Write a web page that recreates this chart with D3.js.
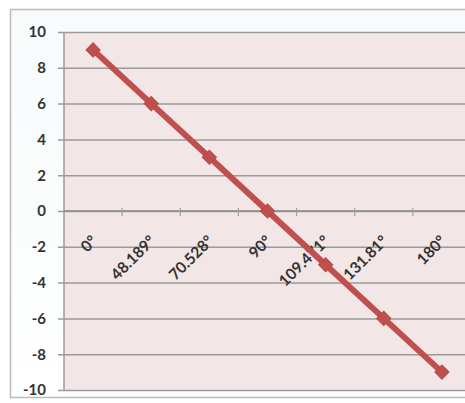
<!DOCTYPE html>
<html><head><meta charset="utf-8">
<script src="https://cdn.jsdelivr.net/npm/d3@7"></script>
<style>body{margin:0;background:#fff}svg{display:block}</style>
</head><body>
<script>
const categories = ["0°","48.189°","70.528°","90°","109.471°","131.81°","180°"];
const values = [9, 6, 3, 0, -3, -6, -9];
const yTicks = [10, 8, 6, 4, 2, 0, -2, -4, -6, -8, -10];

(function(){
const W = 465, H = 403;
const svg = d3.select("body").append("svg").attr("width", W).attr("height", H);
const defs = svg.append("defs");
const g1 = defs.append("linearGradient").attr("id","bg").attr("x1",0).attr("y1",0).attr("x2",0).attr("y2",1);
g1.append("stop").attr("offset","0").attr("stop-color","#f7fbfb");
g1.append("stop").attr("offset","1").attr("stop-color","#ffffff");

// chart area
svg.append("rect").attr("x",10.5).attr("y",9.5).attr("width",470).attr("height",388)
  .attr("fill","url(#bg)").attr("stroke","#b8bcbc").attr("stroke-width",1.5);

const pl = 64, pr = 471, pt = 32, pb = 390;
const x = d3.scaleBand().domain(categories).range([pl, pr]);
const y = d3.scaleLinear().domain([-10, 10]).range([pb, pt]);
const font = "Lato, 'Open Sans', sans-serif";

svg.append("rect").attr("x",pl).attr("y",pt).attr("width",pr-pl).attr("height",pb-pt)
  .attr("fill","#f2e6e6");

// gridlines + y axis
const yAxis = d3.axisLeft(y).tickValues(yTicks).tickSize(-(pr-pl)).tickPadding(12)
  .tickFormat(d => String(d));
const ya = svg.append("g").attr("transform",`translate(${pl},0)`).call(yAxis);
ya.select(".domain").remove();
ya.selectAll(".tick line").attr("stroke","#9a9a9a").attr("stroke-width",1.5).attr("x1",-6);
ya.selectAll(".tick text").attr("font-family",font).attr("font-weight","bold")
  .attr("font-size",15).attr("fill","#333").attr("x",-18);

// left axis line
svg.append("line").attr("x1",pl).attr("x2",pl).attr("y1",pt).attr("y2",pb)
  .attr("stroke","#9a9a9a").attr("stroke-width",1.5);

// x axis at 0
const xa = svg.append("g").attr("transform",`translate(0,${y(0)})`);
xa.append("line").attr("x1",pl).attr("x2",pr).attr("stroke","#8a8a8a").attr("stroke-width",1.5);
const bounds = categories.map(c=>x(c)).concat([pr]);
xa.selectAll("line.t").data(bounds.slice(1)).join("line").attr("class","t")
  .attr("x1",d=>d).attr("x2",d=>d).attr("y1",-3).attr("y2",5).attr("stroke","#a0a0a0").attr("stroke-width",1.2);
xa.selectAll("text").data(categories).join("text")
  .attr("transform",d=>`translate(${x(d)+x.bandwidth()/2+5},${31}) rotate(-45)`)
  .attr("text-anchor","end").attr("font-family",font).attr("font-weight","bold")
  .attr("font-size",15.5).attr("fill","#333").text(d=>d);

// line
const cx = i => x(categories[i])+x.bandwidth()/2;
const line = d3.line().x((d,i)=>cx(i)).y(d=>y(d));
svg.append("path").datum(values).attr("d",line).attr("fill","none")
  .attr("stroke","#c0504d").attr("stroke-width",6).attr("stroke-linejoin","round");
svg.selectAll("path.m").data(values).join("path").attr("class","m")
  .attr("d",d3.symbol(d3.symbolSquare, 100))
  .attr("transform",(d,i)=>`translate(${cx(i)},${y(d)}) rotate(45)`)
  .attr("fill","#c0504d").attr("stroke","#b84a47").attr("stroke-width",1);
})();
</script>
</body></html>
